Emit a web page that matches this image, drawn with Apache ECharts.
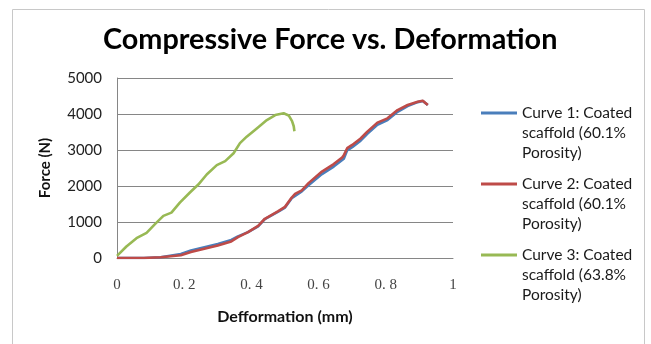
<!DOCTYPE html>
<html>
<head>
<meta charset="utf-8">
<script src="https://cdn.jsdelivr.net/npm/echarts@6/dist/echarts.min.js"></script>
<style>
html,body{margin:0;padding:0;background:#fff;}
#chart{width:651px;height:344px;}
</style>
</head>
<body>
<div id="chart"></div>
<script>
// ---- data ----
const titleText = 'Compressive Force vs. Deformation';
const xAxisName = 'Defformation (mm)';
const yAxisName = 'Force (N)';
const seriesNames = [
  'Curve 1: Coated\nscaffold (60.1%\nPorosity)',
  'Curve 2: Coated\nscaffold (60.1%\nPorosity)',
  'Curve 3: Coated\nscaffold (63.8%\nPorosity)'
];
const curve1X = [0, 0.04, 0.08, 0.13, 0.19, 0.22, 0.26, 0.30, 0.34, 0.36, 0.39, 0.42, 0.44, 0.48, 0.50, 0.52, 0.55, 0.57, 0.61, 0.645, 0.675, 0.685, 0.70, 0.725, 0.745, 0.775, 0.805, 0.835, 0.865, 0.895, 0.91, 0.925];
const curve1Y = [0, 0, 0, 20, 110, 210, 300, 390, 500, 600, 720, 880, 1080, 1290, 1400, 1660, 1850, 2020, 2330, 2540, 2760, 2990, 3080, 3260, 3450, 3700, 3830, 4060, 4220, 4330, 4360, 4250];
const curve2X = [0, 0.04, 0.08, 0.13, 0.19, 0.22, 0.26, 0.30, 0.34, 0.36, 0.39, 0.42, 0.44, 0.48, 0.50, 0.52, 0.53, 0.55, 0.57, 0.61, 0.645, 0.67, 0.675, 0.685, 0.70, 0.725, 0.745, 0.775, 0.805, 0.835, 0.865, 0.895, 0.91, 0.925];
const curve2Y = [0, 0, 0, 20, 75, 165, 260, 350, 460, 580, 720, 890, 1090, 1300, 1420, 1680, 1780, 1880, 2080, 2400, 2610, 2790, 2850, 3050, 3140, 3320, 3510, 3760, 3880, 4110, 4250, 4340, 4370, 4250];
const curve3X = [0, 0.028, 0.058, 0.088, 0.113, 0.138, 0.162, 0.187, 0.217, 0.242, 0.267, 0.297, 0.322, 0.347, 0.366, 0.386, 0.416, 0.446, 0.471, 0.496, 0.511, 0.521, 0.526, 0.528];
const curve3Y = [60, 320, 550, 700, 940, 1170, 1260, 1540, 1820, 2040, 2320, 2580, 2690, 2910, 3190, 3370, 3600, 3830, 3970, 4020, 3960, 3800, 3660, 3520];
const xTicks = [0, 0.2, 0.4, 0.6, 0.8, 1];
const yTicks = [0, 1000, 2000, 3000, 4000, 5000];
const colors = ['#4A7EBB', '#BE4B48', '#98B954'];

// ---- build ----
const zip = (xs, ys) => xs.map((x, i) => [x, ys[i]]);
const allData = [zip(curve1X, curve1Y), zip(curve2X, curve2Y), zip(curve3X, curve3Y)];

// legend icon: a short bar at the top of a tall (otherwise empty) box,
// so the bar lines up with the first line of the three-line label
const legendIcon = 'path://M0,0H36V3H0Z M0,42.99H0.01V43H0Z';

const chart = echarts.init(document.getElementById('chart'), null, {renderer: 'canvas'});
chart.setOption({
  animation: false,
  backgroundColor: '#ffffff',
  color: colors,
  graphic: [{
    type: 'rect', silent: true, z: -10,
    shape: {x: 12.5, y: 9.5, width: 632, height: 360},
    style: {fill: '#ffffff', stroke: '#c8c8c8', lineWidth: 1}
  }],
  title: {
    text: titleText,
    left: 103, top: 25, padding: 0,
    textStyle: {fontFamily: 'Lato', fontWeight: 'bold', fontSize: 28.8, color: '#000'}
  },
  legend: {
    orient: 'vertical',
    left: 481, top: 103, padding: 0,
    itemGap: 11,
    itemWidth: 36, itemHeight: 43,
    icon: legendIcon,
    data: seriesNames,
    textStyle: {fontFamily: 'Lato', fontSize: 15.5, color: '#1a1a1a', lineHeight: 20}
  },
  grid: {left: 117, right: 198, top: 78, bottom: 86, containLabel: false},
  xAxis: {
    type: 'value', min: xTicks[0], max: xTicks[xTicks.length - 1], interval: 0.2,
    name: xAxisName, nameLocation: 'middle', nameGap: 51,
    nameTextStyle: {fontFamily: 'Lato', fontWeight: 'bold', fontSize: 16, color: '#111'},
    axisLine: {show: true, lineStyle: {color: '#868686', width: 1}},
    axisTick: {show: false},
    splitLine: {show: false},
    axisLabel: {
      margin: 20, fontFamily: 'Liberation Serif', fontSize: 15, color: '#444',
      formatter: v => (v === 0 || v === 1) ? String(v) : v.toFixed(1).replace('.', '. ')
    }
  },
  yAxis: {
    type: 'value', min: yTicks[0], max: yTicks[yTicks.length - 1], interval: 1000,
    name: yAxisName, nameLocation: 'middle', nameGap: 64, nameRotate: 90,
    nameTextStyle: {fontFamily: 'Lato', fontWeight: 'bold', fontSize: 15, color: '#111'},
    axisLine: {show: true, lineStyle: {color: '#868686', width: 1}},
    axisTick: {show: false},
    splitLine: {show: true, lineStyle: {color: '#868686', width: 1}},
    axisLabel: {margin: 15, fontFamily: 'Lato', fontSize: 15, color: '#222', formatter: v => String(v)}
  },
  series: allData.map((d, i) => ({
    name: seriesNames[i],
    type: 'line',
    data: d,
    showSymbol: false,
    symbol: 'none',
    lineStyle: {width: 2.6, color: colors[i]},
    itemStyle: {color: colors[i]},
    z: 2 + i
  }))
});
</script>
</body>
</html>
